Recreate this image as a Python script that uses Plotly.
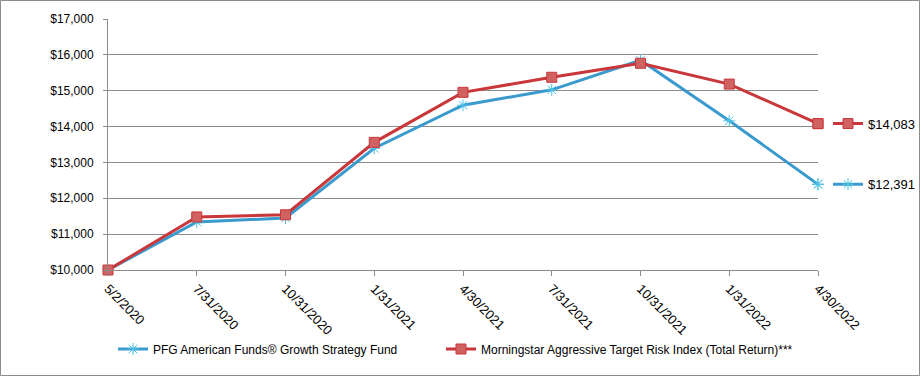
import plotly.graph_objects as go

dates = ["5/2/2020", "7/31/2020", "10/31/2020", "1/31/2021", "4/30/2021",
         "7/31/2021", "10/31/2021", "1/31/2022", "4/30/2022"]
fund = [10000, 11340, 11450, 13395, 14595, 15025, 15850, 14160, 12391]
index = [10000, 11480, 11540, 13560, 14955, 15375, 15765, 15185, 14083]
fund_name = "PFG American Funds® Growth Strategy Fund"
index_name = "Morningstar Aggressive Target Risk Index (Total Return)***"

BLUE = "#3A9ACD"
BLUE_M = "#4CC3E6"
RED = "#C9373A"
RED_F = "#D06262"
FONT = "Liberation Sans"

W, H = 921, 377
ML, MR, MT, MB = 108, 103, 19, 107
PW, PH = W - ML - MR, H - MT - MB
YMIN, YMAX = 10000, 17000


def px_x(p):
    return (p - ML) / PW


def px_y(p):
    return (H - MB - p) / PH


blue_line = dict(color=BLUE, width=3)
blue_marker = dict(symbol="asterisk-open", size=10, color=BLUE_M, line=dict(color=BLUE_M, width=1))
red_line = dict(color=RED, width=3)
red_marker = dict(symbol="square", size=10, color=RED_F, line=dict(color=RED, width=1))

fig = go.Figure()
fig.add_trace(go.Scatter(x=dates, y=fund, name=fund_name, mode="lines+markers",
                         line=blue_line, marker=blue_marker, cliponaxis=False,
                         legend="legend"))
fig.add_trace(go.Scatter(x=dates, y=index, name=index_name, mode="lines+markers",
                         line=red_line, marker=red_marker, cliponaxis=False,
                         legend="legend2"))
# end-value labels, drawn as legend entries next to the last points
fig.add_trace(go.Scatter(x=dates[-1:], y=fund[-1:], name=f"${fund[-1]:,}", mode="lines+markers",
                         line=blue_line, marker=blue_marker, cliponaxis=False,
                         legend="legend3", hoverinfo="skip"))
fig.add_trace(go.Scatter(x=dates[-1:], y=index[-1:], name=f"${index[-1]:,}", mode="lines+markers",
                         line=red_line, marker=red_marker, cliponaxis=False,
                         legend="legend4", hoverinfo="skip"))

# outer frame
fig.add_shape(type="rect", xref="paper", yref="paper",
              x0=px_x(0.5), x1=px_x(919.5), y0=px_y(375.5), y1=px_y(0.5),
              line=dict(color="#8C8C8C", width=1), layer="below")

leg_common = dict(orientation="h", yanchor="middle", xanchor="left",
                  bgcolor="rgba(0,0,0,0)", borderwidth=0,
                  font=dict(family=FONT, size=12, color="#000"))
end_font = dict(family=FONT, size=13, color="#000")

fig.update_layout(
    width=W, height=H,
    margin=dict(l=ML, r=MR, t=MT, b=MB, autoexpand=False),
    paper_bgcolor="white", plot_bgcolor="white",
    font=dict(family=FONT, size=12, color="#000"),
    showlegend=True,
    legend=dict(x=px_x(113), y=px_y(349), **leg_common),
    legend2=dict(x=px_x(441), y=px_y(349), **leg_common),
    legend3=dict(x=px_x(828), y=(fund[-1] - YMIN) / (YMAX - YMIN), **{**leg_common, "font": end_font}),
    legend4=dict(x=px_x(828), y=(index[-1] - YMIN) / (YMAX - YMIN), **{**leg_common, "font": end_font}),
    xaxis=dict(type="category", range=[0, 8], showgrid=False, automargin=False,
               showline=True, linecolor="#8C8C8C", linewidth=1,
               ticks="outside", ticklen=5, tickcolor="#8C8C8C",
               tickangle=45, tickfont=dict(family=FONT, size=13)),
    yaxis=dict(range=[YMIN, YMAX], dtick=1000, tickprefix="$", tickformat=",d",
               automargin=False, showgrid=True, gridcolor="#8C8C8C", gridwidth=1,
               showline=True, linecolor="#8C8C8C", linewidth=1,
               ticks="outside", ticklen=4, tickcolor="#8C8C8C", ticklabelstandoff=7,
               zeroline=False, tickfont=dict(family=FONT, size=12)),
)

fig.write_html("out.html", config={"displayModeBar": False},
               post_script="document.body.style.margin='0';document.body.style.overflow='hidden';")
